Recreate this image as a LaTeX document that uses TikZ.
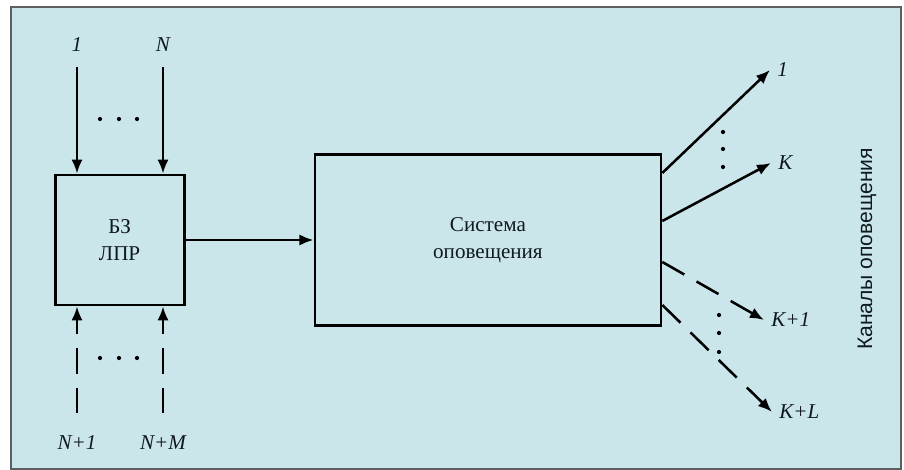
\documentclass[tikz,border=0pt]{standalone}
\usepackage{fontspec}
\setmainfont{Liberation Serif}
\newfontfamily\chansans{Liberation Sans}
\usetikzlibrary{arrows.meta,positioning,calc}
\definecolor{panelbg}{RGB}{202,230,234}
\definecolor{framegray}{RGB}{95,95,95}
\definecolor{inkdark}{RGB}{15,25,30}

\begin{document}
\begin{tikzpicture}[
    font=\fontsize{15}{19}\selectfont,
    block/.style={draw, line width=2pt, inner sep=0pt, align=center, text=inkdark},
    lbl/.style={font=\fontsize{15}{18}\selectfont\itshape, inner sep=5pt, text=inkdark},
    arr/.style={line width=1.8pt, -{Latex[length=10pt,width=8pt]}},
    dashline/.style={dash pattern=on 18pt off 10pt},
    dotmark/.style={fill=black}
    ]
    \useasboundingbox (0,0) rectangle (22.6,11.75);
    \draw[framegray, line width=1.4pt, fill=panelbg] (0.275,0.025) rectangle (22.525,11.575);

    % blocks
    \node[block, minimum width=3.225cm, minimum height=3.25cm] (bz) at (2.99,5.75) {БЗ\\ЛПР};
    \node[block, minimum width=8.65cm, minimum height=4.275cm, right=3.2cm of bz] (so) {Система\\оповещения};
    \draw[arr] (bz) -- (so);

    % inputs
    \node[lbl] (i1) at (1.925,10.625) {1};
    \node[lbl] (iN) at (4.075,10.625) {N};
    \node[lbl] (iN1) at (1.925,0.675) {N+1};
    \node[lbl] (iNM) at (4.075,0.675) {N+M};
    \foreach \n in {i1,iN}
      \draw[arr] ([yshift=-0.55cm]\n.center) -- (\n.center |- bz.north);
    \foreach \n in {iN1,iNM}
      \draw[arr, dashline] ([yshift=0.75cm]\n.center) -- (\n.center |- bz.south);
    \foreach \x in {2.5,2.975,3.425} {
      \fill[dotmark] (\x,8.775) circle (1.5pt);
      \fill[dotmark] (\x,2.8) circle (1.5pt);
    }

    % outputs
    \coordinate (s1) at ($(so.east)+(0,1.675)$);
    \coordinate (sK) at ($(so.east)+(0,0.475)$);
    \coordinate (sK1) at ($(so.east)+(0,-0.55)$);
    \coordinate (sKL) at ($(so.east)+(0,-1.625)$);
    \node[lbl, anchor=west] (o1) at (19.25,10.0) {1};
    \node[lbl, anchor=west] (oK) at (19.275,7.675) {K};
    \node[lbl, anchor=west] (oK1) at (19.1,3.75) {K+1};
    \node[lbl, anchor=west] (oKL) at (19.3,1.45) {K+L};
    \draw[arr] (s1) -- (o1.west);
    \draw[arr] (sK) -- (oK.west);
    \draw[arr, dashline] (sK1) -- (oK1.west);
    \draw[arr, dashline] (sKL) -- (oKL.west);
    \foreach \y in {8.45,8.025,7.575}
      \fill[dotmark] (18.075,\y) circle (1.5pt);
    \foreach \y in {3.875,3.425,2.95}
      \fill[dotmark] (17.975,\y) circle (1.5pt);

    \node[rotate=90, font=\chansans\fontsize{15}{18}\selectfont, text=inkdark] (chan) at (21.675,5.525) {Каналы оповещения};
\end{tikzpicture}
\end{document}
